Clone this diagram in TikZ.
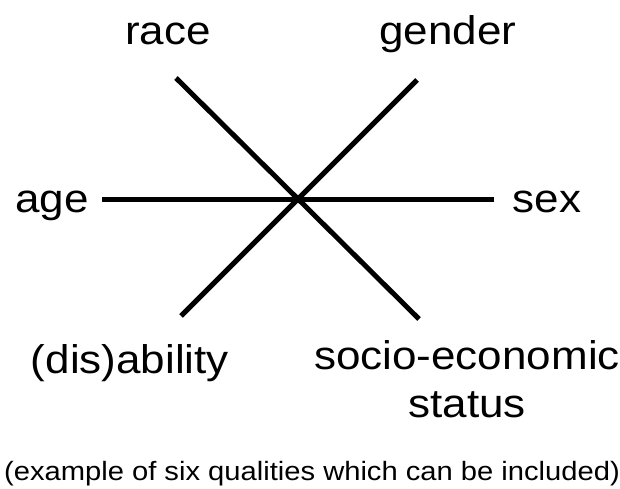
\documentclass[tikz,border=0pt]{standalone}
\usepackage{fontspec}
\usepackage{graphicx}
\setmainfont{Liberation Sans}
\newcommand{\stretchtxt}[1]{\scalebox{1.1}[1]{#1}}
\begin{document}
\begin{tikzpicture}[x=1pt,y=-1pt,
  lbl/.style={anchor=base,inner sep=0pt,font=\fontsize{40}{44}\selectfont},
  captiontext/.style={anchor=base,inner sep=0pt,font=\fontsize{26.5}{30}\selectfont},
  axis/.style={line width=5pt,black}]
\useasboundingbox (0,0) rectangle (620,489);
\coordinate (c) at (297,199);
\coordinate (raceEnd) at (176,78);
\coordinate (sesEnd) at (419,319);
\coordinate (genderEnd) at (417,80);
\coordinate (disEnd) at (181,316);
\coordinate (ageEnd) at (102,199);
\coordinate (sexEnd) at (494,199);
\draw[axis] (ageEnd) -- (sexEnd);
\draw[axis] (raceEnd) -- (sesEnd);
\draw[axis] (genderEnd) -- (disEnd);
\node[lbl] (race) at (168,45) {\stretchtxt{race}};
\node[lbl] (gender) at (448,45) {\stretchtxt{gender}};
\node[lbl] (age) at (52,212) {\stretchtxt{age}};
\node[lbl] (sex) at (547,212) {\stretchtxt{sex}};
\node[lbl] (dis) at (130,373) {\stretchtxt{(dis)ability}};
\node[lbl] (ses) at (467,369) {\stretchtxt{socio-economic}};
\node[lbl] (status) at (467,417) {\stretchtxt{status}};
\node[captiontext] (caption) at (312,480) {\stretchtxt{(example of six qualities which can be included)}};
\end{tikzpicture}
\end{document}
